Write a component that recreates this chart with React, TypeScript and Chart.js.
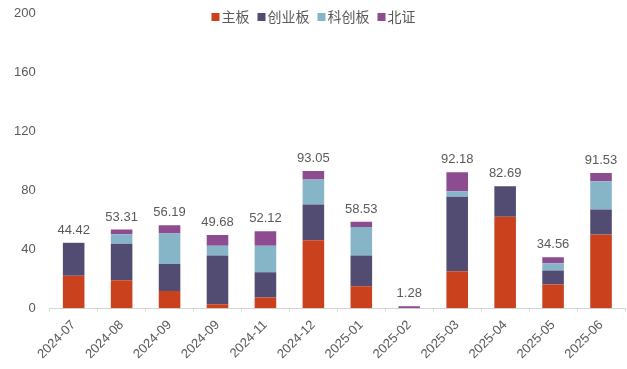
import React, { useEffect, useRef } from "react";
import { Chart, registerables } from "chart.js";

Chart.register(...registerables);

const categories = [
  "2024-07", "2024-08", "2024-09", "2024-09", "2024-11", "2024-12",
  "2025-01", "2025-02", "2025-03", "2025-04", "2025-05", "2025-06",
];
const mainBoard = [22.0, 19.0, 11.7, 2.7, 7.2, 46.1, 14.9, 0, 25.1, 61.9, 16.0, 49.9];
const chinext = [22.2, 24.6, 18.3, 33.0, 17.2, 24.2, 20.8, 0, 50.4, 20.79, 9.5, 17.0];
const star = [0, 6.6, 20.6, 6.6, 17.9, 16.9, 19.4, 0, 3.8, 0, 5.0, 19.2];
const bse = [0.22, 3.11, 5.59, 7.38, 9.82, 5.85, 3.43, 1.28, 12.88, 0, 4.06, 5.43];
const totals = [44.42, 53.31, 56.19, 49.68, 52.12, 93.05, 58.53, 1.28, 92.18, 82.69, 34.56, 91.53];
const yTicks = [0, 40, 80, 120, 160, 200];

const seriesNames = ["主板", "创业板", "科创板", "北证"];
const seriesColors = ["#C9411D", "#524C72", "#87B5C8", "#8C4C8F"];

const FONT = "'Liberation Sans', Arial, sans-serif";
const CJK = "'Noto Sans CJK SC', 'Liberation Sans', sans-serif";
const TEXT = "#595959";

const totalLabels = {
  id: "totalLabels",
  afterDatasetsDraw(chart: any) {
    const ctx = chart.ctx;
    const x = chart.scales.x;
    const y = chart.scales.y;
    ctx.save();
    ctx.fillStyle = TEXT;
    ctx.font = `13px ${FONT}`;
    ctx.textAlign = "center";
    ctx.textBaseline = "bottom";
    totals.forEach((t, i) => {
      ctx.fillText(t.toFixed(2), x.getPixelForValue(i), y.getPixelForValue(t) - 6);
    });
    ctx.restore();
  },
};

const topLegend = {
  id: "topLegend",
  afterDraw(chart: any) {
    const ctx = chart.ctx;
    ctx.save();
    ctx.font = `14px ${CJK}`;
    ctx.textBaseline = "middle";
    const box = 8;
    const gapBox = 2;
    const gapItem = 8;
    const items = chart.data.datasets.map((d: any) => ({
      label: d.label,
      color: d.backgroundColor,
      w: box + gapBox + ctx.measureText(d.label).width,
    }));
    const total = items.reduce((s: number, it: any) => s + it.w, 0) + gapItem * (items.length - 1);
    let cx = chart.width / 2 - total / 2;
    const cy = 17;
    items.forEach((it: any) => {
      ctx.fillStyle = it.color;
      ctx.fillRect(cx, cy - box / 2, box, box);
      ctx.fillStyle = TEXT;
      ctx.textAlign = "left";
      ctx.fillText(it.label, cx + box + gapBox, cy);
      cx += it.w + gapItem;
    });
    ctx.restore();
  },
};

export default function App() {
  const ref = useRef<HTMLCanvasElement | null>(null);
  useEffect(() => {
    document.body.style.margin = "0";
    if (!ref.current) return;
    const data = [mainBoard, chinext, star, bse];
    const chart = new Chart(ref.current, {
      type: "bar",
      data: {
        labels: categories,
        datasets: data.map((d, i) => ({
          label: seriesNames[i],
          data: d,
          backgroundColor: seriesColors[i],
          barPercentage: 0.45,
          categoryPercentage: 1,
        })),
      },
      options: {
        animation: false,
        responsive: false,
        maintainAspectRatio: false,
        layout: { autoPadding: false, padding: { top: 0, right: 2, left: 0, bottom: 1 } },
        plugins: {
          legend: { display: false },
          tooltip: { enabled: false },
        },
        scales: {
          x: {
            stacked: true,
            grid: {
              display: true,
              drawOnChartArea: false,
              drawTicks: true,
              tickLength: 3,
              color: "#D5D5D5",
              offset: true,
            },
            border: { display: true, color: "#D5D5D5" },
            ticks: {
              color: TEXT,
              font: { family: FONT, size: 13 },
              maxRotation: 45,
              minRotation: 45,
              padding: 6,
              autoSkip: false,
            },
          },
          y: {
            stacked: true,
            min: 0,
            max: 200,
            afterBuildTicks: (axis: any) => {
              axis.ticks = yTicks.map((v) => ({ value: v }));
            },
            afterFit: (axis: any) => {
              axis.paddingTop = 13;
              axis.paddingBottom = 8;
            },
            grid: { display: false, drawTicks: false },
            border: { display: false },
            ticks: {
              color: TEXT,
              font: { family: FONT, size: 13 },
              padding: 14,
            },
          },
        },
      },
      plugins: [totalLabels, topLegend],
    });
    return () => chart.destroy();
  }, []);
  return (
    <div style={{ width: 627, height: 369 }}>
      <canvas ref={ref} width={627} height={369} style={{ width: 627, height: 369, display: "block" }} />
    </div>
  );
}
